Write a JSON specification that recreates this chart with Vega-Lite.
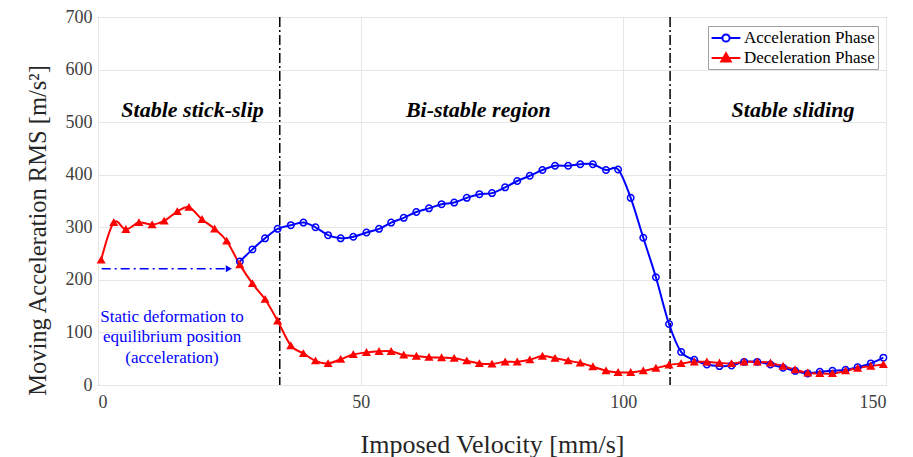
{
  "$schema": "https://vega.github.io/schema/vega-lite/v6.json",
  "width": 788,
  "height": 368,
  "autosize": "none",
  "padding": {"left": 98, "top": 17, "right": 27, "bottom": 72},
  "background": "white",
  "config": {
    "font": "Liberation Serif",
    "view": {"stroke": "#7a7a7a", "strokeWidth": 1},
    "axis": {
      "labelFont": "Liberation Serif",
      "titleFont": "Liberation Serif",
      "labelFontSize": 18,
      "titleFontWeight": "normal",
      "labelColor": "#404040",
      "titleColor": "#262626",
      "gridColor": "#e6e6e6",
      "domain": false,
      "ticks": false
    }
  },
  "datasets": {
    "series": [
      {"phase": "Acceleration Phase", "v": 27.0, "a": 235},
      {"phase": "Acceleration Phase", "v": 29.4, "a": 258},
      {"phase": "Acceleration Phase", "v": 31.8, "a": 279},
      {"phase": "Acceleration Phase", "v": 34.2, "a": 297},
      {"phase": "Acceleration Phase", "v": 36.7, "a": 304},
      {"phase": "Acceleration Phase", "v": 39.1, "a": 309},
      {"phase": "Acceleration Phase", "v": 41.4, "a": 300},
      {"phase": "Acceleration Phase", "v": 43.8, "a": 285},
      {"phase": "Acceleration Phase", "v": 46.2, "a": 279},
      {"phase": "Acceleration Phase", "v": 48.6, "a": 282},
      {"phase": "Acceleration Phase", "v": 51.1, "a": 290},
      {"phase": "Acceleration Phase", "v": 53.5, "a": 297},
      {"phase": "Acceleration Phase", "v": 55.8, "a": 309},
      {"phase": "Acceleration Phase", "v": 58.2, "a": 318},
      {"phase": "Acceleration Phase", "v": 60.6, "a": 329},
      {"phase": "Acceleration Phase", "v": 63.0, "a": 336},
      {"phase": "Acceleration Phase", "v": 65.4, "a": 344},
      {"phase": "Acceleration Phase", "v": 67.8, "a": 347},
      {"phase": "Acceleration Phase", "v": 70.2, "a": 356},
      {"phase": "Acceleration Phase", "v": 72.6, "a": 363},
      {"phase": "Acceleration Phase", "v": 75.0, "a": 365},
      {"phase": "Acceleration Phase", "v": 77.5, "a": 376},
      {"phase": "Acceleration Phase", "v": 79.8, "a": 388},
      {"phase": "Acceleration Phase", "v": 82.2, "a": 398},
      {"phase": "Acceleration Phase", "v": 84.6, "a": 409},
      {"phase": "Acceleration Phase", "v": 87.0, "a": 417},
      {"phase": "Acceleration Phase", "v": 89.5, "a": 417},
      {"phase": "Acceleration Phase", "v": 91.8, "a": 420},
      {"phase": "Acceleration Phase", "v": 94.2, "a": 420},
      {"phase": "Acceleration Phase", "v": 96.7, "a": 409},
      {"phase": "Acceleration Phase", "v": 99.0, "a": 410},
      {"phase": "Acceleration Phase", "v": 101.4, "a": 356},
      {"phase": "Acceleration Phase", "v": 103.8, "a": 280},
      {"phase": "Acceleration Phase", "v": 106.2, "a": 205},
      {"phase": "Acceleration Phase", "v": 108.7, "a": 116},
      {"phase": "Acceleration Phase", "v": 111.0, "a": 63},
      {"phase": "Acceleration Phase", "v": 113.5, "a": 48},
      {"phase": "Acceleration Phase", "v": 115.9, "a": 39},
      {"phase": "Acceleration Phase", "v": 118.3, "a": 36},
      {"phase": "Acceleration Phase", "v": 120.6, "a": 37},
      {"phase": "Acceleration Phase", "v": 123.0, "a": 44},
      {"phase": "Acceleration Phase", "v": 125.5, "a": 44},
      {"phase": "Acceleration Phase", "v": 128.0, "a": 39},
      {"phase": "Acceleration Phase", "v": 130.4, "a": 33},
      {"phase": "Acceleration Phase", "v": 132.7, "a": 27},
      {"phase": "Acceleration Phase", "v": 135.1, "a": 22},
      {"phase": "Acceleration Phase", "v": 137.4, "a": 25},
      {"phase": "Acceleration Phase", "v": 139.8, "a": 27},
      {"phase": "Acceleration Phase", "v": 142.3, "a": 29},
      {"phase": "Acceleration Phase", "v": 144.6, "a": 34},
      {"phase": "Acceleration Phase", "v": 147.1, "a": 41},
      {"phase": "Acceleration Phase", "v": 149.5, "a": 52},
      {"phase": "Deceleration Phase", "v": 0.6, "a": 238},
      {"phase": "Deceleration Phase", "v": 3.0, "a": 309},
      {"phase": "Deceleration Phase", "v": 5.3, "a": 296},
      {"phase": "Deceleration Phase", "v": 7.8, "a": 309},
      {"phase": "Deceleration Phase", "v": 10.3, "a": 305},
      {"phase": "Deceleration Phase", "v": 12.6, "a": 312},
      {"phase": "Deceleration Phase", "v": 15.1, "a": 330},
      {"phase": "Deceleration Phase", "v": 17.3, "a": 338},
      {"phase": "Deceleration Phase", "v": 19.8, "a": 315},
      {"phase": "Deceleration Phase", "v": 22.2, "a": 297},
      {"phase": "Deceleration Phase", "v": 24.5, "a": 274},
      {"phase": "Deceleration Phase", "v": 27.0, "a": 229},
      {"phase": "Deceleration Phase", "v": 29.4, "a": 193},
      {"phase": "Deceleration Phase", "v": 31.8, "a": 163},
      {"phase": "Deceleration Phase", "v": 34.2, "a": 122},
      {"phase": "Deceleration Phase", "v": 36.7, "a": 75},
      {"phase": "Deceleration Phase", "v": 39.1, "a": 60},
      {"phase": "Deceleration Phase", "v": 41.4, "a": 46},
      {"phase": "Deceleration Phase", "v": 43.8, "a": 41},
      {"phase": "Deceleration Phase", "v": 46.2, "a": 49},
      {"phase": "Deceleration Phase", "v": 48.6, "a": 58},
      {"phase": "Deceleration Phase", "v": 51.1, "a": 62},
      {"phase": "Deceleration Phase", "v": 53.5, "a": 64},
      {"phase": "Deceleration Phase", "v": 55.8, "a": 64},
      {"phase": "Deceleration Phase", "v": 58.2, "a": 57},
      {"phase": "Deceleration Phase", "v": 60.6, "a": 55},
      {"phase": "Deceleration Phase", "v": 63.0, "a": 53},
      {"phase": "Deceleration Phase", "v": 65.4, "a": 52},
      {"phase": "Deceleration Phase", "v": 67.8, "a": 51},
      {"phase": "Deceleration Phase", "v": 70.2, "a": 46},
      {"phase": "Deceleration Phase", "v": 72.6, "a": 41},
      {"phase": "Deceleration Phase", "v": 75.0, "a": 40},
      {"phase": "Deceleration Phase", "v": 77.5, "a": 44},
      {"phase": "Deceleration Phase", "v": 79.8, "a": 44},
      {"phase": "Deceleration Phase", "v": 82.2, "a": 48},
      {"phase": "Deceleration Phase", "v": 84.6, "a": 55},
      {"phase": "Deceleration Phase", "v": 87.0, "a": 51},
      {"phase": "Deceleration Phase", "v": 89.5, "a": 46},
      {"phase": "Deceleration Phase", "v": 91.8, "a": 42},
      {"phase": "Deceleration Phase", "v": 94.2, "a": 35},
      {"phase": "Deceleration Phase", "v": 96.7, "a": 27},
      {"phase": "Deceleration Phase", "v": 99.0, "a": 24},
      {"phase": "Deceleration Phase", "v": 101.4, "a": 24},
      {"phase": "Deceleration Phase", "v": 103.8, "a": 27},
      {"phase": "Deceleration Phase", "v": 106.2, "a": 32},
      {"phase": "Deceleration Phase", "v": 108.7, "a": 38},
      {"phase": "Deceleration Phase", "v": 111.0, "a": 41},
      {"phase": "Deceleration Phase", "v": 113.5, "a": 44},
      {"phase": "Deceleration Phase", "v": 115.9, "a": 44},
      {"phase": "Deceleration Phase", "v": 118.3, "a": 42},
      {"phase": "Deceleration Phase", "v": 120.6, "a": 41},
      {"phase": "Deceleration Phase", "v": 123.0, "a": 44},
      {"phase": "Deceleration Phase", "v": 125.5, "a": 44},
      {"phase": "Deceleration Phase", "v": 128.0, "a": 42},
      {"phase": "Deceleration Phase", "v": 130.4, "a": 36},
      {"phase": "Deceleration Phase", "v": 132.7, "a": 29},
      {"phase": "Deceleration Phase", "v": 135.1, "a": 23},
      {"phase": "Deceleration Phase", "v": 137.4, "a": 22},
      {"phase": "Deceleration Phase", "v": 139.8, "a": 22},
      {"phase": "Deceleration Phase", "v": 142.3, "a": 27},
      {"phase": "Deceleration Phase", "v": 144.6, "a": 32},
      {"phase": "Deceleration Phase", "v": 147.1, "a": 36},
      {"phase": "Deceleration Phase", "v": 149.5, "a": 39}
    ],
    "bounds": [{"v": 34.6}, {"v": 108.9}],
    "regions": [
      {"v": 18.0, "a": 523, "label": "Stable stick-slip"},
      {"v": 72.4, "a": 523, "label": "Bi-stable region"},
      {"v": 132.3, "a": 523, "label": "Stable sliding"}
    ],
    "arrow": [{"v": 0.7, "v2": 25.0, "a": 221}],
    "arrowhead": [{"v": 24.9, "a": 221}],
    "note": [{"v": 14.1, "a": 130, "label": "Static deformation to\nequilibrium position\n(acceleration)"}]
  },
  "layer": [
    {
      "data": {"name": "bounds"},
      "mark": {"type": "rule", "color": "black", "strokeWidth": 1.5, "strokeDash": [10, 3, 2, 3]},
      "encoding": {
        "x": {"field": "v", "type": "quantitative", "scale": {"domain": [0, 150], "nice": false},
          "axis": {"values": [0, 50, 100, 150], "grid": true, "labelPadding": 8,
            "titleFontSize": 26, "titleBaseline": "alphabetic", "titleY": 67},
          "title": "Imposed Velocity [mm/s]"}
      }
    },
    {
      "data": {"name": "series"},
      "mark": {"type": "line", "interpolate": "cardinal", "strokeWidth": 2},
      "encoding": {
        "x": {"field": "v", "type": "quantitative"},
        "y": {"field": "a", "type": "quantitative", "scale": {"domain": [0, 700], "nice": false},
          "axis": {"values": [0, 100, 200, 300, 400, 500, 600, 700], "grid": true, "labelPadding": 6,
            "titleFontSize": 24.5, "titleAlign": "center", "titleBaseline": "middle", "titleAngle": -90, "titleX": -60, "titleY": 213},
          "title": "Moving Acceleration RMS [m/s²]"},
        "color": {"field": "phase", "type": "nominal",
          "scale": {"domain": ["Acceleration Phase", "Deceleration Phase"], "range": ["#0000ff", "#ff0000"]},
          "legend": {
            "orient": "none", "legendX": 610, "legendY": 9, "title": null,
            "labelFont": "Liberation Serif", "labelFontSize": 17, "labelColor": "black",
            "strokeColor": "#a0a0a0", "fillColor": "white", "padding": 3, "rowPadding": 3,
            "symbolSize": 256, "symbolOffset": 6, "labelOffset": 9,
            "encode": {"symbols": {"update": {
              "shape": {"signal": "datum.value === 'Acceleration Phase' ? 'M-1.8,0H-0.45M0.45,0H1.8M0.45,0A0.45,0.45,0,1,1,-0.45,0A0.45,0.45,0,1,1,0.45,0' : 'M-1.8,0H1.8M0,-0.6L0.6,0.45L-0.6,0.45Z'"},
              "fill": {"signal": "datum.value === 'Acceleration Phase' ? 'transparent' : '#ff0000'"},
              "stroke": {"signal": "datum.value === 'Acceleration Phase' ? '#0000ff' : '#ff0000'"},
              "strokeWidth": {"value": 2}
            }}}
          }}
      }
    },
    {
      "data": {"name": "series"},
      "mark": {"type": "point", "filled": false, "strokeWidth": 1.5, "opacity": 1},
      "encoding": {
        "x": {"field": "v", "type": "quantitative"},
        "y": {"field": "a", "type": "quantitative"},
        "color": {"field": "phase", "type": "nominal"},
        "shape": {"field": "phase", "type": "nominal", "scale": {"range": ["circle", "triangle-up"]}, "legend": null},
        "fill": {"field": "phase", "type": "nominal", "scale": {"range": ["transparent", "#ff0000"]}, "legend": null},
        "size": {"value": 42}
      }
    },
    {
      "data": {"name": "arrow"},
      "mark": {"type": "rule", "color": "#0000ff", "strokeWidth": 1.5, "strokeDash": [9, 4, 2, 4]},
      "encoding": {
        "x": {"field": "v", "type": "quantitative"},
        "x2": {"field": "v2"},
        "y": {"field": "a", "type": "quantitative"}
      }
    },
    {
      "data": {"name": "arrowhead"},
      "mark": {"type": "point", "shape": "triangle-right", "filled": true, "color": "#0000ff", "size": 50, "opacity": 1},
      "encoding": {
        "x": {"field": "v", "type": "quantitative"},
        "y": {"field": "a", "type": "quantitative"}
      }
    },
    {
      "data": {"name": "regions"},
      "mark": {"type": "text", "font": "Liberation Serif", "fontSize": 22, "fontWeight": "bold", "fontStyle": "italic", "color": "black", "align": "center", "baseline": "middle"},
      "encoding": {
        "x": {"field": "v", "type": "quantitative"},
        "y": {"field": "a", "type": "quantitative"},
        "text": {"field": "label"}
      }
    },
    {
      "data": {"name": "note"},
      "mark": {"type": "text", "font": "Liberation Serif", "fontSize": 17, "color": "#0000ff", "align": "center", "baseline": "middle", "lineBreak": "\n", "lineHeight": 20.5},
      "encoding": {
        "x": {"field": "v", "type": "quantitative"},
        "y": {"field": "a", "type": "quantitative"},
        "text": {"field": "label"}
      }
    }
  ]
}
